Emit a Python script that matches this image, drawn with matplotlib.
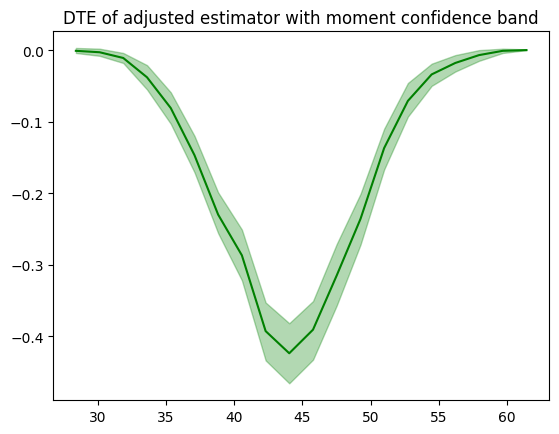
import matplotlib

matplotlib.use("Agg")
import matplotlib.pyplot as plt
import numpy as np

# x grid (20 evenly spaced points)
locations = [28.40, 30.14, 31.87, 33.61, 35.35, 37.09, 38.82, 40.56, 42.30, 44.03,
             45.77, 47.51, 49.25, 50.98, 52.72, 54.46, 56.19, 57.93, 59.67, 61.40]

dte = [-0.001, -0.003, -0.011, -0.038, -0.081, -0.147, -0.230, -0.287, -0.393, -0.424,
       -0.391, -0.315, -0.236, -0.137, -0.071, -0.034, -0.018, -0.007, -0.001, 0.000]

upper_band = [0.003, 0.002, -0.004, -0.021, -0.059, -0.120, -0.199, -0.251, -0.353, -0.382,
              -0.351, -0.271, -0.201, -0.110, -0.046, -0.019, -0.007, 0.000, 0.002, 0.001]

lower_band = [-0.004, -0.008, -0.018, -0.055, -0.103, -0.171, -0.256, -0.322, -0.434, -0.466,
              -0.433, -0.357, -0.272, -0.167, -0.093, -0.050, -0.030, -0.015, -0.004, 0.000]

fig, ax = plt.subplots(figsize=(5.59, 4.35), dpi=100)
fig.subplots_adjust(left=0.0954, right=0.982, bottom=0.078, top=0.926)

x = np.array(locations)
ax.plot(x, dte, color="green")
ax.fill_between(x, lower_band, upper_band, color="green", alpha=0.3)
ax.set_title("DTE of adjusted estimator with moment confidence band")

fig.savefig("out.png", dpi=100)
